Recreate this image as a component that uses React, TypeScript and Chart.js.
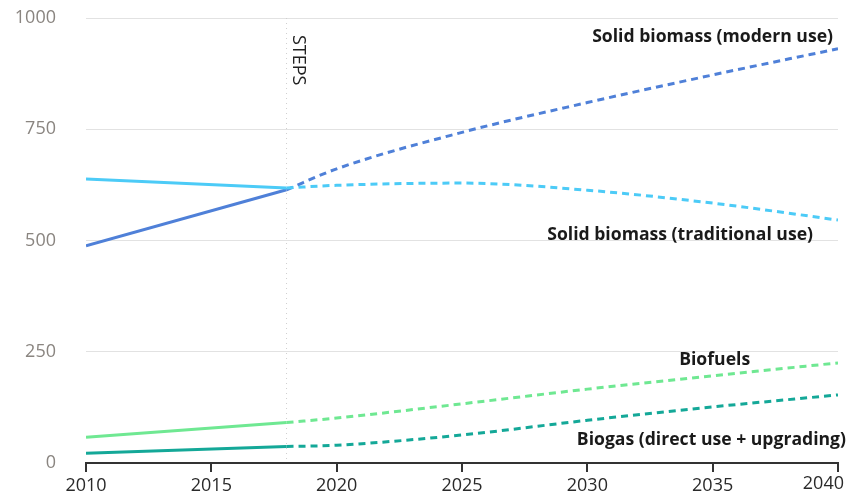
import React, { useEffect, useRef } from "react";
import { Chart, registerables } from "chart.js";

Chart.register(...registerables);

const histYears = [2010, 2018];
const projYears = [2018, 2020, 2025, 2030, 2035, 2040];

const modernHist = [488, 614];
const modernProj = [614, 661, 743, 810, 872, 931];
const tradHist = [638, 618];
const tradProj = [618, 624, 629, 613, 584, 546];
const biofuelsHist = [58, 91];
const biofuelsProj = [91, 101, 133, 166, 196, 225];
const biogasHist = [22, 37];
const biogasProj = [37, 40, 63, 96, 126, 153];

const yTicks = [0, 250, 500, 750, 1000];
const xTicks = [2010, 2015, 2020, 2025, 2030, 2035, 2040];

const stepsYear = 2018;
const stepsLabel = "STEPS";

const seriesLabels = [
  { text: "Solid biomass (modern use)", x: 2040, y: 957, align: "right" as CanvasTextAlign, dx: -5 },
  { text: "Solid biomass (traditional use)", x: 2040, y: 512, align: "right" as CanvasTextAlign, dx: -25 },
  { text: "Biofuels", x: 2035, y: 231, align: "center" as CanvasTextAlign, dx: 2 },
  { text: "Biogas (direct use + upgrading)", x: 2040, y: 52, align: "right" as CanvasTextAlign, dx: 8 },
];

const C_MODERN = "#4f80d8";
const C_TRAD = "#4ccbf7";
const C_BIOFUELS = "#6fe892";
const C_BIOGAS = "#14a898";

const FONT = "'Open Sans', sans-serif";
const LAST_X = xTicks[xTicks.length - 1];

const toPts = (xs: number[], ys: number[]) => xs.map((x, i) => ({ x, y: ys[i] }));

const overlayPlugin = {
  id: "overlay",
  beforeDatasetsDraw(chart: any) {
    const { ctx, chartArea, scales } = chart;
    const x = scales.x.getPixelForValue(stepsYear);
    ctx.save();
    ctx.strokeStyle = "#cfcfcf";
    ctx.lineWidth = 1;
    ctx.setLineDash([1, 4]);
    ctx.beginPath();
    ctx.moveTo(x, chartArea.top);
    ctx.lineTo(x, chartArea.bottom);
    ctx.stroke();
    ctx.restore();
  },
  afterDatasetsDraw(chart: any) {
    const { ctx, scales, chartArea } = chart;
    const x = scales.x.getPixelForValue(stepsYear);
    ctx.save();
    ctx.translate(x + 3, scales.y.getPixelForValue(962));
    ctx.rotate(Math.PI / 2);
    ctx.font = `18px ${FONT}`;
    ctx.fillStyle = "#222";
    ctx.textAlign = "left";
    ctx.textBaseline = "bottom";
    ctx.fillText(stepsLabel, 0, 0);
    ctx.restore();

    ctx.save();
    ctx.font = `bold 17.6px ${FONT}`;
    ctx.fillStyle = "#1a1a1a";
    ctx.textBaseline = "middle";
    for (const l of seriesLabels) {
      ctx.textAlign = l.align;
      ctx.fillText(l.text, scales.x.getPixelForValue(l.x) + l.dx, scales.y.getPixelForValue(l.y));
    }
    ctx.restore();

    // last x tick label, pulled inward to fit the canvas
    ctx.save();
    ctx.font = `18px ${FONT}`;
    ctx.fillStyle = "#2a2a2a";
    ctx.textAlign = "right";
    ctx.textBaseline = "top";
    ctx.fillText(String(LAST_X), scales.x.getPixelForValue(LAST_X) + 6, chartArea.bottom + 12);
    ctx.restore();
  },
};

export default function App() {
  const ref = useRef<HTMLCanvasElement>(null);
  useEffect(() => {
    document.body.style.margin = "0";
    const mk = (label: string, xs: number[], ys: number[], color: string, dashed: boolean) => ({
      label,
      data: toPts(xs, ys),
      borderColor: color,
      backgroundColor: color,
      borderWidth: 3,
      borderDash: dashed ? [7, 5] : [],
      pointRadius: 0,
      cubicInterpolationMode: dashed ? "monotone" : "default",
      tension: 0,
      fill: false,
    });
    const chart = new Chart(ref.current!, {
      type: "line",
      data: {
        datasets: [
          mk("Solid biomass (traditional use)", histYears, tradHist, C_TRAD, false),
          mk("Solid biomass (traditional use) proj", projYears, tradProj, C_TRAD, true),
          mk("Solid biomass (modern use)", histYears, modernHist, C_MODERN, false),
          mk("Solid biomass (modern use) proj", projYears, modernProj, C_MODERN, true),
          mk("Biofuels", histYears, biofuelsHist, C_BIOFUELS, false),
          mk("Biofuels proj", projYears, biofuelsProj, C_BIOFUELS, true),
          mk("Biogas", histYears, biogasHist, C_BIOGAS, false),
          mk("Biogas proj", projYears, biogasProj, C_BIOGAS, true),
        ] as any,
      },
      options: {
        animation: false,
        responsive: false,
        maintainAspectRatio: false,
        layout: { padding: { top: 18, right: 13, left: 0, bottom: 0 } },
        plugins: { legend: { display: false }, tooltip: { enabled: false } },
        scales: {
          x: {
            type: "linear",
            min: 2010,
            max: 2040,
            afterBuildTicks: (s: any) => {
              s.ticks = xTicks.map((v) => ({ value: v }));
            },
            afterFit: (s: any) => {
              s.height = 32;
              s.paddingLeft = 0;
              s.paddingRight = 0;
            },
            border: { display: true, color: "#333", width: 2 },
            grid: { drawOnChartArea: false, drawTicks: true, tickLength: 9, color: "#333", lineWidth: 2 },
            ticks: {
              color: "#2a2a2a",
              font: { size: 18, family: FONT },
              padding: 3,
              maxRotation: 0,
              callback: (v: any) => (v === LAST_X ? "" : String(v)),
            },
          },
          y: {
            min: 0,
            max: 1000,
            afterBuildTicks: (s: any) => {
              s.ticks = yTicks.map((v) => ({ value: v }));
            },
            afterFit: (s: any) => {
              s.width = 86;
              s.paddingTop = 0;
              s.paddingBottom = 0;
            },
            border: { display: false },
            grid: { color: "#e2e2e2", lineWidth: 1, drawTicks: false },
            ticks: {
              color: "#8a8580",
              font: { size: 18, family: FONT },
              padding: 30,
              callback: (v: any) => String(v),
            },
          },
        },
      },
      plugins: [overlayPlugin],
    } as any);
    return () => chart.destroy();
  }, []);
  return (
    <div style={{ width: 851, height: 495 }}>
      <canvas ref={ref} width={851} height={495} style={{ width: 851, height: 495, display: "block" }} />
    </div>
  );
}
